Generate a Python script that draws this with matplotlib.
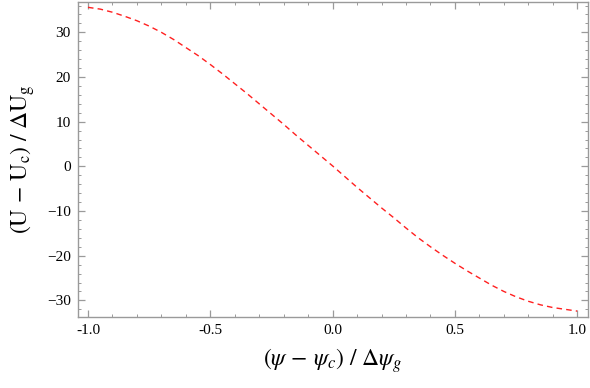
import matplotlib
matplotlib.use("Agg")
import matplotlib.pyplot as plt
from matplotlib.ticker import MultipleLocator, FormatStrFormatter

# valores
psi = [-1.0, -0.95, -0.9, -0.85, -0.8, -0.75, -0.7, -0.65, -0.6, -0.55,
       -0.5, -0.45, -0.4, -0.35, -0.3, -0.25, -0.2, -0.15, -0.1, -0.05,
       0.0, 0.05, 0.1, 0.15, 0.2, 0.25, 0.3, 0.35, 0.4, 0.45,
       0.5, 0.55, 0.6, 0.65, 0.7, 0.75, 0.8, 0.85, 0.9, 0.95, 1.0]
energia = [35.6, 35.2, 34.5, 33.6, 32.6, 31.4, 30.0, 28.4, 26.6, 24.8,
           22.8, 20.7, 18.5, 16.3, 14.0, 11.7, 9.4, 7.0, 4.7, 2.4,
           0.1, -2.3, -4.7, -7.0, -9.3, -11.5, -13.8, -16.0, -18.0, -19.9,
           -21.7, -23.4, -25.0, -26.6, -28.0, -29.2, -30.2, -31.0, -31.6, -32.0, -32.4]

plt.rcParams['font.family'] = ['Liberation Serif', 'DejaVu Serif']
plt.rcParams['mathtext.fontset'] = 'stix'

fig = plt.figure(figsize=(5.9, 3.88), dpi=100)
ax = fig.add_axes([0.1317, 0.1838, 0.8649, 0.8123])

ax.plot(psi, energia, color='#ff2020', lw=1.0, dashes=(4, 3))

ax.set_xlim(-1.042, 1.044)
ax.set_ylim(-33.65, 36.9)

ax.xaxis.set_major_locator(MultipleLocator(0.5))
ax.xaxis.set_minor_locator(MultipleLocator(0.1))
ax.yaxis.set_major_locator(MultipleLocator(10))
ax.yaxis.set_minor_locator(MultipleLocator(2))
ax.xaxis.set_major_formatter(FormatStrFormatter('%.1f'))

gris = '#9a9a9a'
for s in ax.spines.values():
    s.set_color(gris)
    s.set_linewidth(1.0)
ax.tick_params(which='both', direction='in', top=True, right=True,
               color=gris, labelsize=11, labelcolor='black')
ax.tick_params(which='major', length=5, width=0.9, pad=5)
ax.tick_params(which='minor', length=2.5, width=0.7)

ax.set_xlabel(r'$(\psi\,-\,\psi_c)\ /\ \Delta\psi_g$', fontsize=17, labelpad=7)
ax.set_ylabel(r'$(\mathrm{U}\,-\,\mathrm{U}_\mathrm{c})\ /\ \Delta\mathrm{U}_\mathrm{g}$',
              fontsize=17, labelpad=7)

fig.savefig('out.png', dpi=100)
